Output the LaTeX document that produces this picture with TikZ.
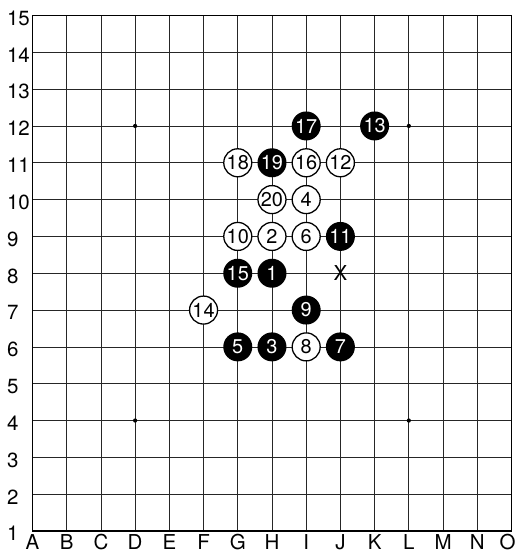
\documentclass[tikz,border=0pt]{standalone}
\usepackage{fontspec}
\setmainfont{TeX Gyre Heros}
\tikzset{
  gridline/.style={line width=0.65pt,black!85},
  border/.style={line width=1.5pt},
  lbl/.style={inner sep=0pt,font=\fontsize{17.5}{17.5}\selectfont},
  stone/.style={circle,inner sep=0pt,minimum size=0.87cm,
    font=\fontsize{17}{17}\selectfont},
  bstone/.style={stone,fill=black,text=white},
  wstone/.style={stone,draw=black,line width=1.1pt,fill=white,
    minimum size=0.84cm},
}
\begin{document}
\begin{tikzpicture}[x=1.0263cm,y=1.1046cm]
  \useasboundingbox (0.05,0.4025) rectangle (15.163,15.421);
  % board
  \foreach \i in {2,...,14} {
    \draw[gridline] (\i,1) -- (\i,15);
    \draw[gridline] (1,\i) -- (15,\i);
  }
  \draw[border] (1,1) rectangle (15,15);
  \foreach \p in {(4,12),(12,12),(4,4),(12,4)}
    \fill \p circle (1.8pt);
  % coordinates
  \foreach \c [count=\i] in {A,...,N}
    \node[lbl,anchor=base] (col\c) at (\i,0.5) {\c};
  \node[lbl,anchor=base east] (colO) at (15.13,0.5) {O};
  \foreach \r in {1,...,15}
    \node[lbl,anchor=west,yshift=-0.08cm] (row\r) at (0.25,\r) {\r};
  % black moves
  \foreach \x/\y/\n in {8/8/1,8/6/3,7/6/5,10/6/7,9/7/9,10/9/11,
                        11/12/13,7/8/15,9/12/17,8/11/19}
    \node[bstone] (s\n) at (\x,\y) {\n};
  % white moves
  \foreach \x/\y/\n in {8/9/2,9/10/4,9/9/6,9/6/8,7/9/10,10/11/12,
                        6/7/14,9/11/16,7/11/18,8/10/20}
    \node[wstone] (s\n) at (\x,\y) {\n};
  \node[lbl] (cross) at (10,8) {X};
\end{tikzpicture}
\end{document}
